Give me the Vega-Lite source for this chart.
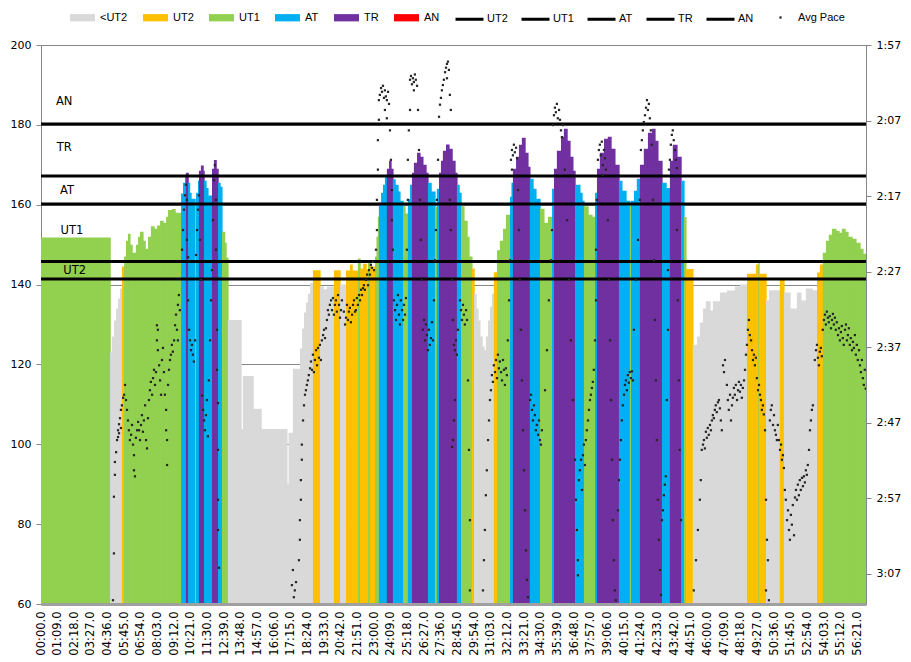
{
"$schema": "https://vega.github.io/schema/vega-lite/v6.json",
"width": 825, "height": 559,
"autosize": {"type": "none"},
"padding": {"left": 41, "top": 45, "right": 45, "bottom": 58},
"background": "white",
"datasets": {
"hr": [
{"t0":0,"t1":286,"hr":151.8,"zone":"UT1"},{"t0":286,"t1":294,"hr":123,"zone":"<UT2"},{"t0":294,"t1":302,"hr":127,"zone":"<UT2"},{"t0":302,"t1":311,"hr":131,"zone":"<UT2"},{"t0":311,"t1":319,"hr":134,"zone":"<UT2"},{"t0":319,"t1":327,"hr":136.5,"zone":"<UT2"},{"t0":327,"t1":335,"hr":139,"zone":"<UT2"},{"t0":335,"t1":344,"hr":144.5,"zone":"UT2"},{"t0":344,"t1":352,"hr":147,"zone":"UT1"},{"t0":352,"t1":360,"hr":151,"zone":"UT1"},{"t0":360,"t1":368,"hr":152.7,"zone":"UT1"},{"t0":368,"t1":377,"hr":150,"zone":"UT1"},{"t0":377,"t1":393,"hr":148,"zone":"UT1"},{"t0":393,"t1":402,"hr":150,"zone":"UT1"},{"t0":402,"t1":410,"hr":152,"zone":"UT1"},{"t0":410,"t1":422,"hr":153.2,"zone":"UT1"},{"t0":422,"t1":431,"hr":151,"zone":"UT1"},{"t0":431,"t1":443,"hr":149,"zone":"UT1"},{"t0":443,"t1":455,"hr":152,"zone":"UT1"},{"t0":455,"t1":468,"hr":154.6,"zone":"UT1"},{"t0":468,"t1":480,"hr":154,"zone":"UT1"},{"t0":480,"t1":493,"hr":154.8,"zone":"UT1"},{"t0":493,"t1":505,"hr":156,"zone":"UT1"},{"t0":505,"t1":518,"hr":155.5,"zone":"UT1"},{"t0":518,"t1":526,"hr":157,"zone":"UT1"},{"t0":526,"t1":542,"hr":158.7,"zone":"UT1"},{"t0":542,"t1":555,"hr":158.9,"zone":"UT1"},{"t0":555,"t1":580,"hr":158,"zone":"UT1"},
{"t0":580,"t1":588,"hr":162.8,"zone":"AT"},{"t0":588,"t1":596,"hr":165.5,"zone":"AT"},{"t0":596,"t1":600,"hr":167,"zone":"AT"},{"t0":600,"t1":609,"hr":168,"zone":"TR"},{"t0":609,"t1":615,"hr":165.5,"zone":"AT"},{"t0":615,"t1":621,"hr":163,"zone":"AT"},{"t0":621,"t1":638,"hr":161.5,"zone":"AT"},{"t0":638,"t1":642,"hr":160,"zone":"UT1"},{"t0":642,"t1":650,"hr":163,"zone":"AT"},{"t0":650,"t1":654,"hr":166,"zone":"AT"},{"t0":654,"t1":662,"hr":168.5,"zone":"TR"},{"t0":662,"t1":671,"hr":169.8,"zone":"TR"},{"t0":671,"t1":675,"hr":168.5,"zone":"TR"},{"t0":675,"t1":683,"hr":166,"zone":"AT"},{"t0":683,"t1":691,"hr":164.2,"zone":"AT"},{"t0":691,"t1":708,"hr":162.3,"zone":"AT"},{"t0":708,"t1":716,"hr":169,"zone":"TR"},{"t0":716,"t1":725,"hr":171.2,"zone":"TR"},{"t0":725,"t1":733,"hr":169,"zone":"TR"},{"t0":733,"t1":741,"hr":165.5,"zone":"AT"},{"t0":741,"t1":749,"hr":164.5,"zone":"AT"},{"t0":749,"t1":760,"hr":153.2,"zone":"UT1"},{"t0":760,"t1":766,"hr":150.5,"zone":"UT1"},{"t0":766,"t1":774,"hr":146.8,"zone":"UT1"},
{"t0":774,"t1":828,"hr":131.1,"zone":"<UT2"},{"t0":828,"t1":836,"hr":103.8,"zone":"<UT2"},{"t0":836,"t1":878,"hr":117.1,"zone":"<UT2"},{"t0":878,"t1":911,"hr":108.9,"zone":"<UT2"},{"t0":911,"t1":1018,"hr":103.8,"zone":"<UT2"},{"t0":1018,"t1":1025,"hr":90,"zone":"<UT2"},{"t0":1025,"t1":1043,"hr":102.9,"zone":"<UT2"},{"t0":1043,"t1":1072,"hr":118.9,"zone":"<UT2"},{"t0":1072,"t1":1081,"hr":124,"zone":"<UT2"},{"t0":1081,"t1":1089,"hr":129,"zone":"<UT2"},{"t0":1089,"t1":1097,"hr":133,"zone":"<UT2"},{"t0":1097,"t1":1105,"hr":135.5,"zone":"<UT2"},{"t0":1105,"t1":1114,"hr":137.7,"zone":"<UT2"},{"t0":1114,"t1":1126,"hr":140.4,"zone":"<UT2"},
{"t0":1126,"t1":1155,"hr":143.6,"zone":"UT2"},{"t0":1155,"t1":1168,"hr":139.5,"zone":"<UT2"},{"t0":1168,"t1":1184,"hr":138.8,"zone":"<UT2"},{"t0":1184,"t1":1213,"hr":139.5,"zone":"<UT2"},{"t0":1213,"t1":1238,"hr":143.6,"zone":"UT2"},{"t0":1238,"t1":1263,"hr":140,"zone":"<UT2"},{"t0":1263,"t1":1279,"hr":143.5,"zone":"UT2"},{"t0":1279,"t1":1288,"hr":145,"zone":"UT2"},{"t0":1288,"t1":1312,"hr":143.5,"zone":"UT2"},{"t0":1312,"t1":1321,"hr":146.5,"zone":"UT1"},{"t0":1321,"t1":1333,"hr":144,"zone":"UT2"},{"t0":1333,"t1":1346,"hr":145.2,"zone":"UT2"},{"t0":1346,"t1":1354,"hr":143.8,"zone":"UT2"},{"t0":1354,"t1":1362,"hr":146,"zone":"UT1"},{"t0":1362,"t1":1383,"hr":144.5,"zone":"UT2"},{"t0":1383,"t1":1389,"hr":147,"zone":"UT1"},{"t0":1389,"t1":1395,"hr":152,"zone":"UT1"},{"t0":1395,"t1":1399,"hr":157,"zone":"UT1"},
{"t0":1399,"t1":1408,"hr":160.5,"zone":"AT"},{"t0":1408,"t1":1416,"hr":163,"zone":"AT"},{"t0":1416,"t1":1424,"hr":165,"zone":"AT"},{"t0":1424,"t1":1432,"hr":166.9,"zone":"AT"},{"t0":1432,"t1":1441,"hr":169,"zone":"TR"},{"t0":1441,"t1":1449,"hr":171,"zone":"TR"},{"t0":1449,"t1":1457,"hr":169,"zone":"TR"},{"t0":1457,"t1":1466,"hr":166.4,"zone":"AT"},{"t0":1466,"t1":1478,"hr":165,"zone":"AT"},{"t0":1478,"t1":1486,"hr":163.3,"zone":"AT"},{"t0":1486,"t1":1499,"hr":161,"zone":"AT"},{"t0":1499,"t1":1507,"hr":159.6,"zone":"UT1"},{"t0":1507,"t1":1519,"hr":157.8,"zone":"UT1"},{"t0":1519,"t1":1528,"hr":161.4,"zone":"AT"},{"t0":1528,"t1":1536,"hr":165,"zone":"AT"},{"t0":1536,"t1":1544,"hr":168,"zone":"TR"},{"t0":1544,"t1":1557,"hr":170.5,"zone":"TR"},{"t0":1557,"t1":1569,"hr":173,"zone":"TR"},{"t0":1569,"t1":1581,"hr":172,"zone":"TR"},{"t0":1581,"t1":1594,"hr":170,"zone":"TR"},{"t0":1594,"t1":1602,"hr":168,"zone":"TR"},{"t0":1602,"t1":1615,"hr":165.5,"zone":"AT"},{"t0":1615,"t1":1631,"hr":163.3,"zone":"AT"},{"t0":1631,"t1":1639,"hr":159.5,"zone":"UT1"},{"t0":1639,"t1":1648,"hr":164,"zone":"AT"},{"t0":1648,"t1":1656,"hr":168,"zone":"TR"},{"t0":1656,"t1":1664,"hr":171,"zone":"TR"},{"t0":1664,"t1":1677,"hr":173.5,"zone":"TR"},{"t0":1677,"t1":1689,"hr":175.1,"zone":"TR"},{"t0":1689,"t1":1702,"hr":174,"zone":"TR"},{"t0":1702,"t1":1714,"hr":171,"zone":"TR"},{"t0":1714,"t1":1722,"hr":168,"zone":"TR"},{"t0":1722,"t1":1731,"hr":165,"zone":"AT"},{"t0":1731,"t1":1739,"hr":163,"zone":"AT"},{"t0":1739,"t1":1751,"hr":159.6,"zone":"UT1"},{"t0":1751,"t1":1764,"hr":156,"zone":"UT1"},{"t0":1764,"t1":1772,"hr":152,"zone":"UT1"},{"t0":1772,"t1":1784,"hr":147,"zone":"UT1"},{"t0":1784,"t1":1793,"hr":144,"zone":"UT2"},
{"t0":1793,"t1":1801,"hr":137.7,"zone":"<UT2"},{"t0":1801,"t1":1809,"hr":134,"zone":"<UT2"},{"t0":1809,"t1":1817,"hr":131,"zone":"<UT2"},{"t0":1817,"t1":1826,"hr":127,"zone":"<UT2"},{"t0":1826,"t1":1834,"hr":124.5,"zone":"<UT2"},{"t0":1834,"t1":1842,"hr":123.5,"zone":"<UT2"},{"t0":1842,"t1":1851,"hr":127,"zone":"<UT2"},{"t0":1851,"t1":1859,"hr":131,"zone":"<UT2"},{"t0":1859,"t1":1867,"hr":134.5,"zone":"<UT2"},{"t0":1867,"t1":1875,"hr":137.7,"zone":"<UT2"},{"t0":1875,"t1":1888,"hr":143.1,"zone":"UT2"},{"t0":1888,"t1":1900,"hr":148.6,"zone":"UT1"},{"t0":1900,"t1":1913,"hr":151,"zone":"UT1"},{"t0":1913,"t1":1925,"hr":154,"zone":"UT1"},{"t0":1925,"t1":1942,"hr":157.5,"zone":"UT1"},{"t0":1942,"t1":1948,"hr":162,"zone":"AT"},{"t0":1948,"t1":1954,"hr":165.5,"zone":"AT"},{"t0":1954,"t1":1967,"hr":169,"zone":"TR"},{"t0":1967,"t1":1979,"hr":172,"zone":"TR"},{"t0":1979,"t1":1991,"hr":175,"zone":"TR"},{"t0":1991,"t1":2004,"hr":176.8,"zone":"TR"},{"t0":2004,"t1":2016,"hr":173,"zone":"TR"},{"t0":2016,"t1":2024,"hr":169.5,"zone":"TR"},{"t0":2024,"t1":2037,"hr":166.5,"zone":"AT"},{"t0":2037,"t1":2049,"hr":164,"zone":"AT"},{"t0":2049,"t1":2066,"hr":161.5,"zone":"AT"},{"t0":2066,"t1":2082,"hr":159,"zone":"UT1"},{"t0":2082,"t1":2099,"hr":155.5,"zone":"UT1"},{"t0":2099,"t1":2116,"hr":157,"zone":"UT1"},{"t0":2116,"t1":2124,"hr":164,"zone":"AT"},{"t0":2124,"t1":2136,"hr":169,"zone":"TR"},{"t0":2136,"t1":2153,"hr":173.5,"zone":"TR"},{"t0":2153,"t1":2165,"hr":177,"zone":"TR"},{"t0":2165,"t1":2178,"hr":179,"zone":"TR"},{"t0":2178,"t1":2190,"hr":176,"zone":"TR"},{"t0":2190,"t1":2202,"hr":172,"zone":"TR"},{"t0":2202,"t1":2211,"hr":168.5,"zone":"TR"},{"t0":2211,"t1":2231,"hr":165,"zone":"AT"},{"t0":2231,"t1":2240,"hr":163,"zone":"AT"},{"t0":2240,"t1":2248,"hr":161,"zone":"AT"},{"t0":2248,"t1":2265,"hr":159.6,"zone":"UT1"},{"t0":2265,"t1":2281,"hr":157.5,"zone":"UT1"},{"t0":2281,"t1":2294,"hr":157,"zone":"UT1"},{"t0":2294,"t1":2302,"hr":163,"zone":"AT"},{"t0":2302,"t1":2314,"hr":169,"zone":"TR"},{"t0":2314,"t1":2331,"hr":173,"zone":"TR"},{"t0":2331,"t1":2347,"hr":176.5,"zone":"TR"},{"t0":2347,"t1":2360,"hr":177,"zone":"TR"},{"t0":2360,"t1":2376,"hr":174,"zone":"TR"},{"t0":2376,"t1":2393,"hr":170,"zone":"TR"},{"t0":2393,"t1":2405,"hr":166,"zone":"AT"},{"t0":2405,"t1":2422,"hr":163.5,"zone":"AT"},{"t0":2422,"t1":2438,"hr":161,"zone":"AT"},{"t0":2438,"t1":2443,"hr":160,"zone":"UT1"},{"t0":2443,"t1":2455,"hr":161,"zone":"AT"},{"t0":2455,"t1":2467,"hr":163.5,"zone":"AT"},{"t0":2467,"t1":2480,"hr":166.5,"zone":"AT"},{"t0":2480,"t1":2496,"hr":170,"zone":"TR"},{"t0":2496,"t1":2513,"hr":174,"zone":"TR"},{"t0":2513,"t1":2530,"hr":178,"zone":"TR"},{"t0":2530,"t1":2542,"hr":179,"zone":"TR"},{"t0":2542,"t1":2554,"hr":176,"zone":"TR"},{"t0":2554,"t1":2571,"hr":171,"zone":"TR"},{"t0":2571,"t1":2588,"hr":165.5,"zone":"AT"},{"t0":2588,"t1":2604,"hr":164.2,"zone":"AT"},{"t0":2604,"t1":2616,"hr":171,"zone":"TR"},{"t0":2616,"t1":2633,"hr":175,"zone":"TR"},{"t0":2633,"t1":2650,"hr":172,"zone":"TR"},{"t0":2650,"t1":2662,"hr":166,"zone":"AT"},{"t0":2662,"t1":2670,"hr":156.9,"zone":"UT1"},{"t0":2670,"t1":2699,"hr":143.9,"zone":"UT2"},
{"t0":2699,"t1":2716,"hr":124.9,"zone":"<UT2"},{"t0":2716,"t1":2728,"hr":127,"zone":"<UT2"},{"t0":2728,"t1":2741,"hr":130.5,"zone":"<UT2"},{"t0":2741,"t1":2753,"hr":134,"zone":"<UT2"},{"t0":2753,"t1":2770,"hr":135.8,"zone":"<UT2"},{"t0":2770,"t1":2782,"hr":133.5,"zone":"<UT2"},{"t0":2782,"t1":2811,"hr":135.8,"zone":"<UT2"},{"t0":2811,"t1":2840,"hr":138,"zone":"<UT2"},{"t0":2840,"t1":2873,"hr":138.5,"zone":"<UT2"},{"t0":2873,"t1":2894,"hr":139.5,"zone":"<UT2"},{"t0":2894,"t1":2923,"hr":140,"zone":"<UT2"},{"t0":2923,"t1":2960,"hr":142.7,"zone":"UT2"},{"t0":2960,"t1":2970,"hr":145,"zone":"UT2"},{"t0":2970,"t1":2973,"hr":145.9,"zone":"UT1"},{"t0":2973,"t1":3002,"hr":142.7,"zone":"UT2"},{"t0":3002,"t1":3014,"hr":136,"zone":"<UT2"},{"t0":3014,"t1":3059,"hr":138.6,"zone":"<UT2"},{"t0":3059,"t1":3076,"hr":141.6,"zone":"UT2"},{"t0":3076,"t1":3101,"hr":138,"zone":"<UT2"},{"t0":3101,"t1":3130,"hr":134,"zone":"<UT2"},{"t0":3130,"t1":3146,"hr":138,"zone":"<UT2"},{"t0":3146,"t1":3167,"hr":136,"zone":"<UT2"},{"t0":3167,"t1":3192,"hr":139,"zone":"<UT2"},{"t0":3192,"t1":3213,"hr":138.6,"zone":"<UT2"},{"t0":3213,"t1":3225,"hr":143,"zone":"UT2"},{"t0":3225,"t1":3237,"hr":145,"zone":"UT2"},{"t0":3237,"t1":3250,"hr":148,"zone":"UT1"},{"t0":3250,"t1":3262,"hr":151,"zone":"UT1"},{"t0":3262,"t1":3275,"hr":152.5,"zone":"UT1"},{"t0":3275,"t1":3291,"hr":154,"zone":"UT1"},{"t0":3291,"t1":3304,"hr":153.5,"zone":"UT1"},{"t0":3304,"t1":3316,"hr":153,"zone":"UT1"},{"t0":3316,"t1":3329,"hr":154,"zone":"UT1"},{"t0":3329,"t1":3341,"hr":153.2,"zone":"UT1"},{"t0":3341,"t1":3358,"hr":152,"zone":"UT1"},{"t0":3358,"t1":3374,"hr":151.5,"zone":"UT1"},{"t0":3374,"t1":3391,"hr":150.5,"zone":"UT1"},{"t0":3391,"t1":3403,"hr":149,"zone":"UT1"},{"t0":3403,"t1":3416,"hr":147.7,"zone":"UT1"}
],
"lines": [
{"line":"UT2","v":141.4},{"line":"UT1","v":145.8},{"line":"AT","v":160.2},{"line":"TR","v":167.2},{"line":"AN","v":180.2}
],
"labels": [
{"lab":"AN","tx":62,"ty":185.8},{"lab":"TR","tx":65,"ty":174.1},{"lab":"AT","tx":79,"ty":163.4},{"lab":"UT1","tx":81,"ty":153.3},{"lab":"UT2","tx":92,"ty":143.3}
],
"pace": [
{"t":298,"p":190.5},{"t":302,"p":184.3},{"t":302,"p":176.8},{"t":306,"p":173.9},{"t":306,"p":172.2},{"t":311,"p":170.9},{"t":315,"p":169.3},{"t":319,"p":168.9},{"t":319,"p":168.0},{"t":323,"p":167.2},{"t":327,"p":166.4},{"t":331,"p":165.3},{"t":335,"p":164.7},{"t":340,"p":163.7},{"t":331,"p":167.7},{"t":323,"p":168.4},
{"t":344,"p":163.3},{"t":348,"p":162.0},{"t":352,"p":164.0},{"t":356,"p":165.3},{"t":360,"p":166.7},{"t":364,"p":168.0},{"t":368,"p":169.3},{"t":373,"p":168.6},{"t":377,"p":167.3},{"t":381,"p":169.9},{"t":385,"p":171.3},{"t":385,"p":173.3},{"t":389,"p":174.1},{"t":393,"p":169.0},{"t":398,"p":168.0},{"t":402,"p":166.9},{"t":406,"p":168.0},{"t":410,"p":169.3},{"t":414,"p":167.3},{"t":418,"p":166.0},{"t":422,"p":168.2},{"t":426,"p":166.7},{"t":431,"p":164.7},{"t":435,"p":169.3},{"t":439,"p":170.4},{"t":443,"p":166.4},{"t":447,"p":164.0},{"t":451,"p":162.7},{"t":455,"p":161.6},{"t":460,"p":163.3},{"t":464,"p":161.1},{"t":468,"p":160.0},{"t":472,"p":162.0},{"t":476,"p":160.3},{"t":480,"p":156.1},{"t":480,"p":154.1},{"t":484,"p":154.7},{"t":484,"p":157.4},{"t":489,"p":159.4},{"t":493,"p":161.4},{"t":497,"p":163.3},{"t":501,"p":158.7},{"t":505,"p":157.1},{"t":509,"p":160.3},{"t":513,"p":163.3},{"t":518,"p":165.3},{"t":518,"p":168.0},{"t":522,"p":169.3},{"t":522,"p":172.6},{"t":526,"p":162.0},{"t":530,"p":160.0},{"t":534,"p":158.7},{"t":538,"p":158.0},{"t":542,"p":156.7},{"t":546,"p":157.6},{"t":551,"p":156.1},{"t":555,"p":154.1},{"t":559,"p":152.7},{"t":563,"p":154.7},{"t":567,"p":151.4},{"t":571,"p":150.1},{"t":575,"p":152.1},{"t":567,"p":156.1},
{"t":584,"p":144.1},{"t":588,"p":141.5},{"t":592,"p":138.8},{"t":596,"p":136.9},{"t":600,"p":135.5},{"t":604,"p":137.5},{"t":604,"p":142.8},{"t":609,"p":145.1},{"t":609,"p":150.8},{"t":613,"p":154.7},{"t":617,"p":156.1},{"t":621,"p":157.4},{"t":625,"p":156.7},{"t":629,"p":158.0},{"t":633,"p":158.9},{"t":638,"p":156.1},{"t":642,"p":144.8},{"t":646,"p":141.5},{"t":650,"p":138.8},{"t":654,"p":136.9},{"t":658,"p":142.8},{"t":662,"p":148.1},{"t":667,"p":163.4},{"t":671,"p":165.3},{"t":675,"p":166.7},{"t":679,"p":168.0},{"t":683,"p":166.0},{"t":687,"p":164.0},{"t":691,"p":168.8},{"t":695,"p":161.4},{"t":700,"p":156.1},{"t":708,"p":146.8},{"t":712,"p":140.2},{"t":716,"p":134.9},{"t":720,"p":132.9},{"t":724,"p":137.5},{"t":724,"p":144.1},{"t":729,"p":154.7},{"t":729,"p":160.0},{"t":733,"p":164.4},{"t":733,"p":170.6},{"t":733,"p":177.2},{"t":733,"p":181.2},{"t":737,"p":186.2},{"t":704,"p":150.8},
{"t":1039,"p":188.5},{"t":1043,"p":186.5},{"t":1047,"p":190.1},{"t":1051,"p":189.2},{"t":1056,"p":188.1},{"t":1068,"p":185.2},{"t":1072,"p":182.5},{"t":1072,"p":179.9},{"t":1076,"p":177.2},{"t":1076,"p":174.6},{"t":1080,"p":171.9},{"t":1080,"p":169.9},{"t":1085,"p":166.7},{"t":1089,"p":164.7},{"t":1093,"p":163.3},{"t":1097,"p":162.7},{"t":1101,"p":162.0},{"t":1105,"p":161.4},{"t":1109,"p":160.7},{"t":1114,"p":159.8},{"t":1118,"p":158.9},
{"t":1122,"p":160.0},{"t":1126,"p":158.0},{"t":1130,"p":160.3},{"t":1134,"p":158.7},{"t":1139,"p":157.4},{"t":1143,"p":159.4},{"t":1147,"p":157.1},{"t":1151,"p":158.4},{"t":1155,"p":156.7},{"t":1159,"p":158.7},{"t":1163,"p":156.1},{"t":1168,"p":155.4},{"t":1172,"p":154.7},{"t":1176,"p":155.8},{"t":1180,"p":154.5},{"t":1184,"p":153.4},{"t":1188,"p":152.1},{"t":1192,"p":152.7},{"t":1196,"p":151.4},{"t":1201,"p":150.8},{"t":1205,"p":152.1},{"t":1209,"p":150.5},{"t":1213,"p":152.7},{"t":1217,"p":151.4},{"t":1221,"p":150.8},{"t":1225,"p":152.3},{"t":1230,"p":150.1},{"t":1234,"p":151.4},{"t":1238,"p":153.1},{"t":1242,"p":152.1},{"t":1246,"p":150.8},{"t":1254,"p":152.3},{"t":1259,"p":154.0},{"t":1263,"p":153.1},{"t":1267,"p":151.4},{"t":1271,"p":153.4},{"t":1275,"p":152.3},{"t":1279,"p":151.8},{"t":1283,"p":153.7},{"t":1288,"p":152.7},{"t":1292,"p":151.4},{"t":1296,"p":150.8},{"t":1300,"p":152.3},{"t":1304,"p":152.1},{"t":1308,"p":150.5},{"t":1312,"p":151.4},{"t":1317,"p":150.1},{"t":1321,"p":150.8},{"t":1325,"p":149.4},{"t":1329,"p":150.1},{"t":1333,"p":149.2},{"t":1337,"p":148.8},{"t":1341,"p":149.4},{"t":1346,"p":148.1},{"t":1350,"p":147.4},{"t":1354,"p":148.8},{"t":1358,"p":146.8},{"t":1362,"p":147.4},{"t":1366,"p":146.1},{"t":1370,"p":146.5},{"t":1374,"p":145.7},{"t":1379,"p":146.8},
{"t":1387,"p":144.1},{"t":1391,"p":141.5},{"t":1391,"p":137.5},{"t":1395,"p":133.5},{"t":1395,"p":129.6},{"t":1399,"p":126.9},{"t":1399,"p":124.3},{"t":1403,"p":123.6},{"t":1408,"p":122.7},{"t":1412,"p":123.2},{"t":1416,"p":122.4},{"t":1420,"p":124.0},{"t":1424,"p":123.0},{"t":1428,"p":123.8},{"t":1432,"p":124.3},{"t":1437,"p":123.2},{"t":1441,"p":124.8},{"t":1424,"p":125.6},{"t":1432,"p":126.7},{"t":1445,"p":128.3},{"t":1449,"p":132.2},{"t":1453,"p":136.2},{"t":1453,"p":140.2},{"t":1457,"p":144.1},{"t":1461,"p":150.8},{"t":1466,"p":152.1},{"t":1470,"p":153.4},{"t":1474,"p":151.4},{"t":1478,"p":150.1},{"t":1482,"p":152.7},{"t":1486,"p":154.0},{"t":1490,"p":150.8},{"t":1495,"p":152.1},{"t":1499,"p":153.4},{"t":1503,"p":151.4},{"t":1507,"p":152.7},{"t":1511,"p":150.5},{"t":1515,"p":144.1},{"t":1519,"p":137.5},{"t":1519,"p":132.2},{"t":1523,"p":128.3},{"t":1528,"p":125.6},{"t":1528,"p":121.6},{"t":1532,"p":121.1},{"t":1536,"p":122.2},{"t":1540,"p":121.4},{"t":1544,"p":121.9},{"t":1548,"p":120.9},{"t":1552,"p":121.6},{"t":1557,"p":122.4},{"t":1544,"p":123.0},{"t":1561,"p":125.6},{"t":1565,"p":130.9},{"t":1569,"p":137.5},{"t":1573,"p":142.8},{"t":1577,"p":148.1},{"t":1581,"p":154.7},{"t":1586,"p":153.4},{"t":1590,"p":156.1},{"t":1594,"p":154.0},{"t":1598,"p":155.4},{"t":1602,"p":157.4},{"t":1606,"p":154.7},{"t":1610,"p":156.7},{"t":1615,"p":155.8},{"t":1619,"p":153.7},{"t":1623,"p":156.1},{"t":1627,"p":150.8},{"t":1631,"p":145.5},{"t":1635,"p":141.5},{"t":1639,"p":137.5},{"t":1644,"p":132.2},{"t":1648,"p":126.5},{"t":1652,"p":124.9},{"t":1656,"p":124.0},{"t":1660,"p":123.0},{"t":1664,"p":122.3},{"t":1668,"p":121.6},{"t":1673,"p":120.6},{"t":1677,"p":120.0},{"t":1681,"p":119.5},{"t":1685,"p":119.2},{"t":1689,"p":120.3},{"t":1681,"p":121.4},
{"t":1693,"p":123.6},{"t":1697,"p":125.6},{"t":1693,"p":137.5},{"t":1697,"p":141.5},{"t":1702,"p":148.1},{"t":1706,"p":153.4},{"t":1710,"p":156.7},{"t":1714,"p":157.4},{"t":1718,"p":156.1},{"t":1714,"p":164.0},{"t":1710,"p":166.7},{"t":1706,"p":169.3},{"t":1702,"p":170.2},{"t":1722,"p":158.0},{"t":1726,"p":154.7},{"t":1735,"p":150.8},{"t":1739,"p":152.1},{"t":1743,"p":153.4},{"t":1747,"p":151.4},{"t":1751,"p":152.7},{"t":1755,"p":154.0},{"t":1760,"p":152.1},{"t":1764,"p":153.4},{"t":1768,"p":161.4},{"t":1772,"p":170.6},{"t":1776,"p":179.9},{"t":1776,"p":189.2},
{"t":1830,"p":189.2},{"t":1834,"p":185.2},{"t":1838,"p":181.2},{"t":1842,"p":176.6},{"t":1846,"p":173.3},{"t":1851,"p":169.3},{"t":1855,"p":166.7},{"t":1859,"p":164.0},{"t":1863,"p":162.7},{"t":1867,"p":160.7},{"t":1871,"p":161.6},{"t":1875,"p":159.4},{"t":1880,"p":160.3},{"t":1884,"p":158.7},{"t":1888,"p":161.1},{"t":1892,"p":158.0},{"t":1896,"p":159.8},{"t":1900,"p":158.9},{"t":1905,"p":160.3},{"t":1909,"p":161.4},{"t":1913,"p":158.7},{"t":1917,"p":160.0},{"t":1921,"p":162.0},{"t":1925,"p":159.8},{"t":1929,"p":160.7},{"t":1933,"p":156.1},{"t":1938,"p":150.8},{"t":1942,"p":145.5},{"t":1946,"p":132.2},{"t":1950,"p":130.9},{"t":1954,"p":131.6},{"t":1958,"p":130.2},{"t":1962,"p":131.2},{"t":1967,"p":130.6},{"t":1971,"p":132.0},{"t":1950,"p":133.5},{"t":1975,"p":136.2},{"t":1979,"p":141.5},{"t":1983,"p":148.1},{"t":1987,"p":154.7},{"t":1991,"p":161.4},{"t":1996,"p":168.0},{"t":2000,"p":173.3},{"t":2004,"p":178.6},{"t":2008,"p":183.9},{"t":2012,"p":187.8},{"t":2016,"p":190.1},{"t":2025,"p":164.0},{"t":2029,"p":163.3},{"t":2033,"p":165.3},{"t":2037,"p":166.7},{"t":2041,"p":164.7},{"t":2045,"p":166.0},{"t":2049,"p":168.0},{"t":2053,"p":167.3},{"t":2058,"p":168.6},{"t":2062,"p":166.7},{"t":2066,"p":169.3},{"t":2070,"p":169.9},{"t":2074,"p":168.0},{"t":2087,"p":162.7},{"t":2095,"p":157.4},{"t":2103,"p":150.8},{"t":2111,"p":145.5},{"t":2116,"p":141.5},{"t":2120,"p":127.6},{"t":2124,"p":126.3},{"t":2128,"p":125.3},{"t":2132,"p":125.9},{"t":2136,"p":124.8},{"t":2140,"p":126.7},{"t":2145,"p":125.6},{"t":2149,"p":126.9},{"t":2153,"p":128.3},{"t":2157,"p":129.2},{"t":2161,"p":127.6},{"t":2169,"p":133.5},{"t":2178,"p":140.2},{"t":2186,"p":148.1},{"t":2194,"p":156.1},{"t":2203,"p":164.0},{"t":2211,"p":171.9},{"t":2215,"p":177.2},{"t":2219,"p":181.2},{"t":2223,"p":185.2},{"t":2223,"p":187.2},{"t":2227,"p":174.6},{"t":2231,"p":173.3},{"t":2236,"p":171.9},{"t":2240,"p":175.9},{"t":2244,"p":171.3},{"t":2248,"p":169.9},{"t":2252,"p":172.6},{"t":2256,"p":169.3},{"t":2260,"p":168.0},{"t":2265,"p":166.7},{"t":2269,"p":165.3},{"t":2273,"p":164.0},{"t":2277,"p":163.3},{"t":2281,"p":162.4},{"t":2285,"p":161.6},
{"t":2289,"p":160.0},{"t":2294,"p":156.1},{"t":2298,"p":150.8},{"t":2298,"p":144.1},{"t":2302,"p":137.5},{"t":2306,"p":132.2},{"t":2310,"p":130.9},{"t":2314,"p":130.2},{"t":2318,"p":131.6},{"t":2322,"p":129.8},{"t":2326,"p":132.9},{"t":2331,"p":130.9},{"t":2335,"p":132.0},{"t":2339,"p":133.5},{"t":2326,"p":134.2},{"t":2347,"p":140.2},{"t":2351,"p":148.1},{"t":2356,"p":156.1},{"t":2360,"p":164.0},{"t":2364,"p":171.9},{"t":2368,"p":179.9},{"t":2372,"p":185.2},{"t":2376,"p":189.2},{"t":2380,"p":190.5},{"t":2389,"p":178.6},{"t":2393,"p":174.6},{"t":2397,"p":171.9},{"t":2401,"p":169.3},{"t":2405,"p":166.7},{"t":2409,"p":164.7},{"t":2414,"p":163.3},{"t":2418,"p":162.0},{"t":2422,"p":161.4},{"t":2426,"p":162.7},{"t":2430,"p":160.7},{"t":2434,"p":161.7},{"t":2438,"p":160.3},{"t":2443,"p":161.1},{"t":2447,"p":160.2},{"t":2451,"p":161.4},{"t":2455,"p":154.7},{"t":2463,"p":148.1},{"t":2472,"p":142.8},{"t":2480,"p":137.5},{"t":2484,"p":130.9},{"t":2488,"p":129.6},{"t":2492,"p":128.3},{"t":2496,"p":127.2},{"t":2501,"p":126.3},{"t":2505,"p":125.3},{"t":2509,"p":124.3},{"t":2513,"p":125.6},{"t":2517,"p":124.8},{"t":2521,"p":126.7},{"t":2525,"p":128.3},{"t":2529,"p":130.2},{"t":2534,"p":137.5},{"t":2538,"p":145.5},{"t":2542,"p":153.4},{"t":2546,"p":161.4},{"t":2550,"p":169.3},{"t":2554,"p":177.2},{"t":2558,"p":182.5},{"t":2563,"p":186.5},{"t":2567,"p":189.8},{"t":2571,"p":179.9},{"t":2575,"p":178.6},{"t":2579,"p":176.6},{"t":2583,"p":175.2},{"t":2587,"p":174.1},{"t":2591,"p":164.0},{"t":2596,"p":154.7},{"t":2596,"p":146.8},{"t":2600,"p":133.5},{"t":2604,"p":132.2},{"t":2608,"p":130.2},{"t":2612,"p":128.9},{"t":2616,"p":128.3},{"t":2620,"p":129.6},{"t":2625,"p":130.9},{"t":2629,"p":132.2},{"t":2633,"p":133.3},{"t":2633,"p":141.5},{"t":2637,"p":150.8},{"t":2641,"p":161.4},{"t":2645,"p":170.6},{"t":2650,"p":179.9},{"t":2703,"p":189.2},{"t":2712,"p":185.2},{"t":2720,"p":181.2},{"t":2728,"p":177.2},{"t":2732,"p":174.6},{"t":2736,"p":170.6},{"t":2741,"p":169.9},{"t":2745,"p":169.3},{"t":2749,"p":170.4},{"t":2753,"p":168.2},{"t":2757,"p":169.0},{"t":2761,"p":167.7},{"t":2765,"p":168.6},{"t":2770,"p":167.3},{"t":2774,"p":168.0},{"t":2778,"p":166.7},{"t":2782,"p":166.0},{"t":2786,"p":166.4},{"t":2790,"p":165.3},{"t":2794,"p":164.7},{"t":2798,"p":165.6},{"t":2803,"p":164.3},{"t":2807,"p":164.0},{"t":2811,"p":165.1},
{"t":2815,"p":166.7},{"t":2819,"p":168.0},{"t":2824,"p":159.4},{"t":2828,"p":160.3},{"t":2832,"p":158.7},{"t":2840,"p":162.0},{"t":2844,"p":164.0},{"t":2848,"p":165.3},{"t":2853,"p":163.3},{"t":2857,"p":166.7},{"t":2861,"p":164.7},{"t":2865,"p":163.7},{"t":2869,"p":162.4},{"t":2873,"p":163.3},{"t":2877,"p":162.0},{"t":2882,"p":164.0},{"t":2886,"p":162.7},{"t":2890,"p":161.6},{"t":2894,"p":162.9},{"t":2898,"p":162.0},{"t":2902,"p":163.7},{"t":2906,"p":162.4},{"t":2911,"p":161.4},{"t":2915,"p":160.0},{"t":2919,"p":158.0},{"t":2923,"p":156.7},{"t":2927,"p":154.7},{"t":2931,"p":153.4},{"t":2935,"p":155.4},{"t":2940,"p":156.1},{"t":2944,"p":157.4},{"t":2948,"p":158.7},{"t":2952,"p":158.0},{"t":2956,"p":159.4},{"t":2960,"p":158.4},{"t":2964,"p":161.1},{"t":2969,"p":162.7},{"t":2973,"p":162.0},{"t":2977,"p":163.3},{"t":2981,"p":164.0},{"t":2985,"p":165.3},{"t":2989,"p":164.7},{"t":2993,"p":165.9},{"t":2998,"p":168.0},{"t":3002,"p":177.2},{"t":3006,"p":182.5},{"t":3002,"p":189.2},{"t":3010,"p":185.2},{"t":3014,"p":190.5},{"t":3018,"p":166.7},{"t":3022,"p":165.3},{"t":3026,"p":164.7},{"t":3031,"p":167.3},{"t":3035,"p":166.0},{"t":3039,"p":168.0},{"t":3043,"p":168.6},{"t":3047,"p":169.3},{"t":3051,"p":167.3},{"t":3055,"p":169.3},{"t":3060,"p":170.6},{"t":3064,"p":169.9},{"t":3068,"p":171.9},{"t":3072,"p":171.3},{"t":3076,"p":173.0},{"t":3080,"p":175.9},{"t":3084,"p":177.2},{"t":3089,"p":179.9},{"t":3093,"p":178.6},{"t":3097,"p":181.2},{"t":3101,"p":182.5},{"t":3105,"p":179.2},{"t":3109,"p":180.5},{"t":3113,"p":177.9},{"t":3118,"p":181.9},{"t":3122,"p":176.9},{"t":3126,"p":175.9},{"t":3130,"p":177.2},{"t":3134,"p":175.2},{"t":3138,"p":176.6},{"t":3142,"p":174.6},{"t":3146,"p":175.9},{"t":3151,"p":174.3},{"t":3155,"p":175.4},{"t":3159,"p":174.1},{"t":3163,"p":174.9},{"t":3167,"p":173.3},{"t":3171,"p":173.9},{"t":3175,"p":172.6},{"t":3180,"p":170.6},{"t":3184,"p":168.0},{"t":3188,"p":166.7},{"t":3192,"p":165.3},{"t":3196,"p":164.7},{"t":3204,"p":158.7},{"t":3209,"p":157.4},{"t":3213,"p":156.7},{"t":3217,"p":158.4},{"t":3221,"p":159.4},{"t":3225,"p":157.6},{"t":3229,"p":157.1},{"t":3233,"p":158.2},{"t":3237,"p":154.7},{"t":3242,"p":153.4},{"t":3246,"p":152.7},{"t":3250,"p":154.0},{"t":3254,"p":152.3},{"t":3258,"p":153.1},{"t":3262,"p":153.7},{"t":3266,"p":152.9},{"t":3271,"p":154.5},{"t":3275,"p":153.4},{"t":3279,"p":152.6},{"t":3283,"p":154.0},{"t":3287,"p":153.1},{"t":3291,"p":154.7},{"t":3295,"p":153.7},{"t":3300,"p":155.4},{"t":3304,"p":154.5},{"t":3308,"p":156.1},{"t":3312,"p":155.0},{"t":3316,"p":154.2},{"t":3320,"p":155.8},{"t":3324,"p":156.7},{"t":3329,"p":154.7},{"t":3333,"p":154.0},{"t":3337,"p":156.1},{"t":3341,"p":155.4},{"t":3345,"p":154.5},{"t":3349,"p":156.7},{"t":3353,"p":155.8},{"t":3358,"p":157.4},{"t":3362,"p":156.3},{"t":3366,"p":157.1},{"t":3370,"p":155.4},{"t":3374,"p":158.0},{"t":3378,"p":156.7},{"t":3382,"p":158.7},{"t":3387,"p":157.4},{"t":3391,"p":159.4},{"t":3395,"p":160.3},{"t":3399,"p":158.7},{"t":3403,"p":161.1},{"t":3407,"p":162.0},{"t":3411,"p":160.0},{"t":3415,"p":162.5}
]
},
"layer": [
{"layer": [
 {"data": {"name": "hr"},
  "mark": {"type": "rect", "x2Offset": 0.7},
  "encoding": {
   "x": {"field": "t0", "type": "quantitative", "title": null, "scale": {"domain": [0, 3416], "nice": false, "zero": false},
     "axis": {"orient": "bottom", "title": null, "tickCount": 200, "values": [0,69,138,207,276,345,414,483,552,621,690,759,828,897,966,1035,1104,1173,1242,1311,1380,1449,1518,1587,1656,1725,1794,1863,1932,2001,2070,2139,2208,2277,2346,2415,2484,2553,2622,2691,2760,2829,2898,2967,3036,3105,3174,3243,3312,3381],
       "labelExpr": "(floor(datum.value/60) < 10 ? '0' : '') + floor(datum.value/60) + ':' + (datum.value % 60 < 10 ? '0' : '') + (datum.value % 60) + '.0'",
       "labelAngle": -90, "labelOverlap": false, "labelFlush": false, "labelBound": false, "ticks": false, "grid": false,
       "labelPadding": 7, "labelFontSize": 11.5, "domainWidth": 3, "domainColor": "#A0A0A0", "zindex": 1}},
   "x2": {"field": "t1"},
   "y": {"field": "hr", "type": "quantitative", "title": null, "scale": {"domain": [60, 200], "nice": false, "zero": false},
     "axis": {"orient": "left", "title": null, "values": [60,80,100,120,140,160,180,200], "grid": true, "tickSize": 5, "labelPadding": 5, "labelFontSize": 11}},
   "y2": {"datum": 60},
   "color": {"field": "zone", "type": "nominal",
     "scale": {"domain": ["<UT2","UT2","UT1","AT","TR","AN"], "range": ["#D9D9D9","#FFC000","#92D050","#00B0F0","#7030A0","#FF0000"]},
     "legend": {"title": null, "orient": "none", "legendX": 29, "legendY": -40, "direction": "horizontal", "columns": 6, "columnPadding": 15, "symbolType": "M-1,-0.29H1V0.29H-1Z", "symbolSize": 625, "symbolStrokeWidth": 0, "labelOffset": 5}}
  }},
 {"data": {"name": "lines"},
  "mark": {"type": "rule", "strokeWidth": 3},
  "encoding": {
   "y": {"field": "v", "type": "quantitative", "title": null, "scale": {"domain": [60, 200], "nice": false, "zero": false}},
   "stroke": {"field": "line", "type": "nominal",
     "scale": {"domain": ["UT2","UT1","AT","TR","AN"], "range": ["#000000","#000000","#000000","#000000","#000000"]},
     "legend": {"title": null, "orient": "none", "legendX": 413, "legendY": -41.5, "direction": "horizontal", "columns": 5, "columnPadding": 7, "symbolType": "stroke", "symbolSize": 784, "symbolStrokeWidth": 3, "labelOffset": 2}}
  }},
 {"data": {"name": "labels"},
  "mark": {"type": "text", "align": "left", "baseline": "middle", "font": "DejaVu Sans", "fontSize": 11.5, "color": "#000000"},
  "encoding": {
   "x": {"field": "tx", "type": "quantitative", "title": null, "scale": {"domain": [0, 3416], "nice": false, "zero": false}},
   "y": {"field": "ty", "type": "quantitative", "title": null, "scale": {"domain": [60, 200], "nice": false, "zero": false}},
   "text": {"field": "lab"}
  }}
]},
{"data": {"name": "pace"},
 "mark": {"type": "point", "shape": "square", "filled": true, "size": 5, "strokeWidth": 0, "opacity": 1},
 "encoding": {
  "x": {"field": "t", "type": "quantitative", "title": null, "scale": {"domain": [0, 3416], "nice": false, "zero": false},
     "axis": {"orient": "bottom", "title": null, "tickCount": 200, "values": [0,69,138,207,276,345,414,483,552,621,690,759,828,897,966,1035,1104,1173,1242,1311,1380,1449,1518,1587,1656,1725,1794,1863,1932,2001,2070,2139,2208,2277,2346,2415,2484,2553,2622,2691,2760,2829,2898,2967,3036,3105,3174,3243,3312,3381],
       "labelExpr": "(floor(datum.value/60) < 10 ? '0' : '') + floor(datum.value/60) + ':' + (datum.value % 60 < 10 ? '0' : '') + (datum.value % 60) + '.0'",
       "labelAngle": -90, "labelOverlap": false, "labelFlush": false, "labelBound": false, "ticks": false, "grid": false,
       "labelPadding": 7, "labelFontSize": 11.5, "domainWidth": 3, "domainColor": "#A0A0A0", "zindex": 1}},
  "y": {"field": "p", "type": "quantitative", "title": null, "scale": {"domain": [117, 191], "reverse": true, "nice": false, "zero": false},
    "axis": {"orient": "right", "title": null, "values": [117,127,137,147,157,167,177,187], "grid": false, "tickSize": 5, "labelPadding": 5, "labelFontSize": 11, "zindex": 1,
      "labelExpr": "floor(datum.value/60) + ':' + (datum.value % 60 < 10 ? '0' : '') + (datum.value % 60)"}},
  "fill": {"datum": "Avg Pace", "type": "nominal",
    "scale": {"domain": ["Avg Pace"], "range": ["#262626"]},
    "legend": {"title": null, "orient": "none", "legendX": 727, "legendY": -40, "direction": "horizontal", "symbolType": "M-0.09,-0.09H0.09V0.09H-0.09Z", "symbolSize": 625, "symbolStrokeWidth": 0, "labelOffset": 5}}
 }}
],
"resolve": {"scale": {"y": "independent"}, "axis": {"y": "independent"}},
"config": {
 "view": {"stroke": "#868686", "strokeWidth": 1},
 "axis": {"labelFont": "DejaVu Sans", "labelColor": "#000000", "domainColor": "#868686", "tickColor": "#868686", "gridColor": "#868686", "gridWidth": 1},
 "axisX": {"labelOverlap": false, "tickCount": 200, "labelAngle": -90, "labelFontSize": 11.5, "labelPadding": 7, "ticks": false, "domainWidth": 3, "domainColor": "#A0A0A0", "labelFlush": false, "labelBound": false},
 "legend": {"labelFont": "Liberation Sans", "labelFontSize": 11, "labelColor": "#000000", "padding": 0}
}
}
